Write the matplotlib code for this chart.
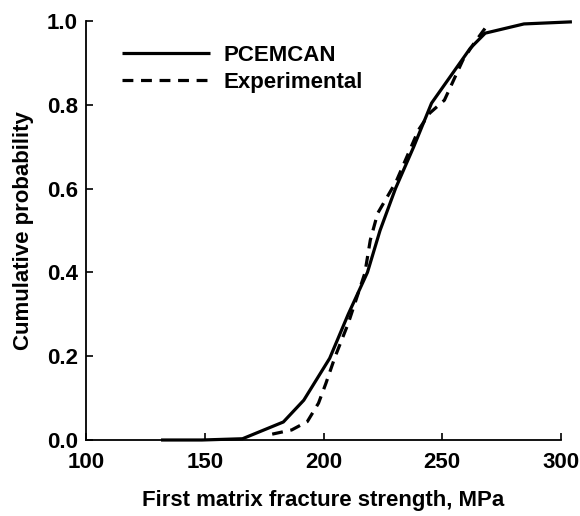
import matplotlib
matplotlib.use("Agg")
import matplotlib.pyplot as plt

# Simulated (PCEMCAN) cumulative distribution
sim_strength = [131.6, 148.8, 165.9, 183.1, 191.7, 202.6, 210.4, 218.5, 223.8, 230.3, 238.0, 245.5,
                261.8, 268.1, 284.4, 304.6]
sim_prob = [0.0, 0.0, 0.003, 0.043, 0.095, 0.195, 0.30, 0.40, 0.50, 0.60, 0.70, 0.804,
            0.935, 0.971, 0.993, 0.998]

# Experimental cumulative distribution
exp_strength = [178.4, 186.6, 193.2, 197.9, 201.0, 204.9, 210.4, 217.4, 219.7, 222.8, 230.6, 240.0,
                244.7, 250.9, 254.8, 258.7, 263.4, 268.1]
exp_prob = [0.014, 0.024, 0.044, 0.088, 0.135, 0.199, 0.278, 0.398, 0.477, 0.541, 0.617, 0.74,
            0.78, 0.811, 0.859, 0.907, 0.947, 0.983]

x_ticks = [100, 150, 200, 250, 300]
y_ticks = [0.0, 0.2, 0.4, 0.6, 0.8, 1.0]

plt.rcParams['font.family'] = ['Liberation Sans', 'DejaVu Sans']

W, H = 580, 516
fig = plt.figure(figsize=(W / 100, H / 100), dpi=100)
ax = fig.add_axes([86 / W, 1 - 440 / H, (561 - 86) / W, (440 - 21) / H])

ax.plot(sim_strength, sim_prob, color='black', lw=2.3, solid_capstyle='butt',
        clip_on=False, label='PCEMCAN')
ax.plot(exp_strength, exp_prob, color='black', lw=2.3, dashes=(3.4, 2.4),
        clip_on=False, label='Experimental')

ax.set_xlim(100, 300)
ax.set_ylim(0, 1.0)
ax.set_xticks(x_ticks)
ax.set_yticks(y_ticks)
ax.set_xticklabels([str(v) for v in x_ticks])
ax.set_yticklabels([f"{v:.1f}" for v in y_ticks])

for s in ('top', 'right'):
    ax.spines[s].set_visible(False)
for s in ('left', 'bottom'):
    ax.spines[s].set_linewidth(1.3)

ax.tick_params(direction='in', length=5, width=1.2, labelsize=16)
ax.tick_params(axis='x', pad=9)
ax.tick_params(axis='y', pad=6)
for lab in ax.get_xticklabels() + ax.get_yticklabels():
    lab.set_fontweight('bold')

ax.set_xlabel('First matrix fracture strength, MPa', fontsize=16, fontweight='bold', labelpad=12)
ax.set_ylabel('Cumulative probability', fontsize=16, fontweight='bold', labelpad=9)

leg = ax.legend(loc='upper left', bbox_to_anchor=(0.033, 0.99), frameon=False,
                fontsize=16, handlelength=3.96, handletextpad=0.6, labelspacing=0.24)
for t in leg.get_texts():
    t.set_fontweight('bold')

fig.savefig('out.png', dpi=100)
